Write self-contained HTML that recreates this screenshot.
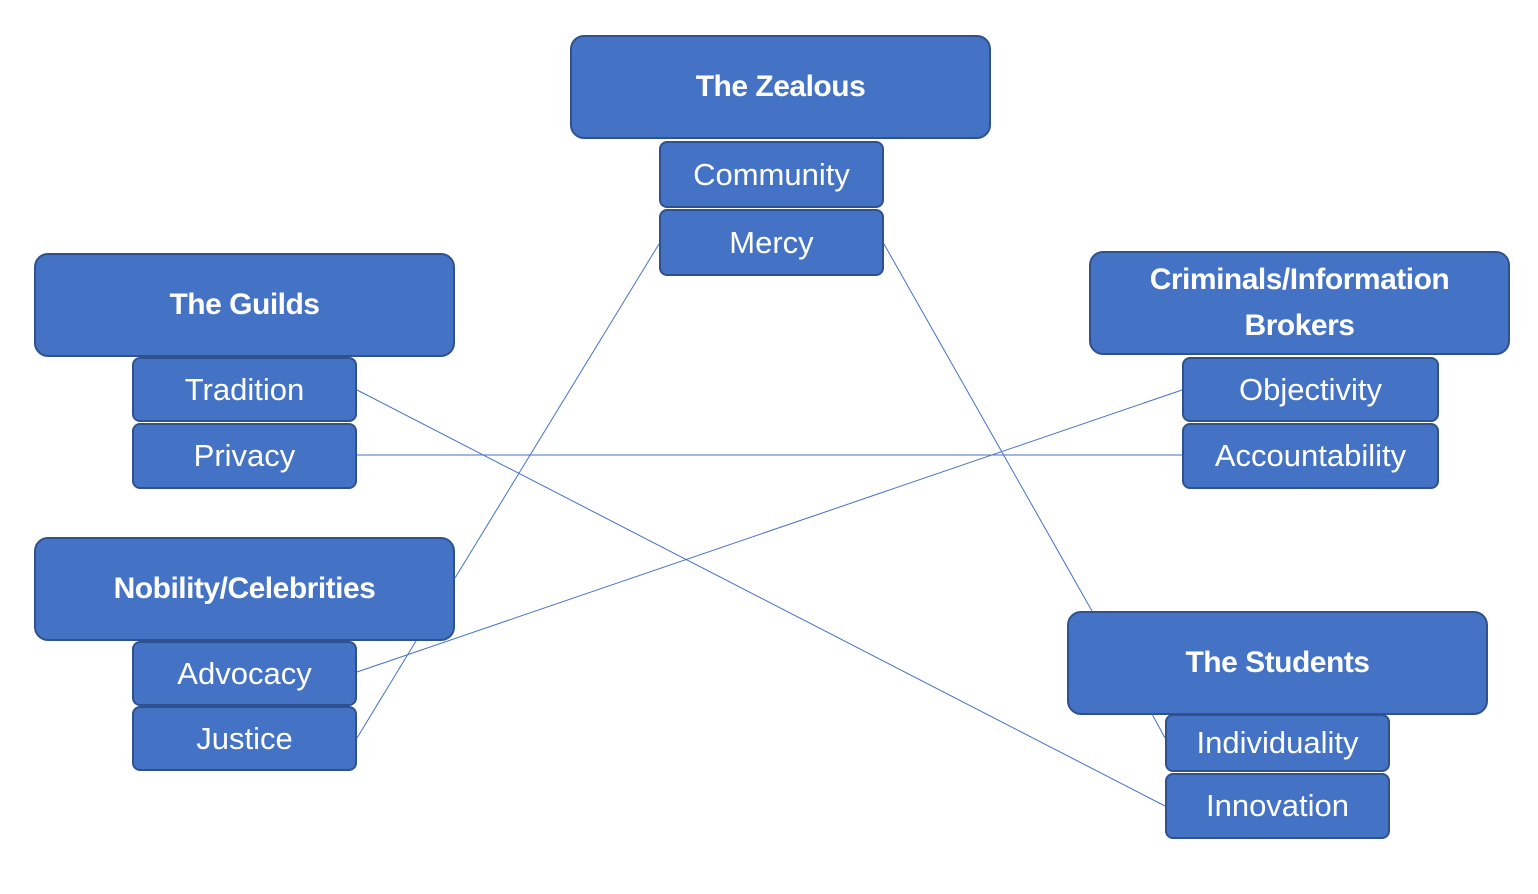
<!DOCTYPE html>
<html><head><meta charset="utf-8"><style>
body{margin:0;width:1538px;height:894px;background:#fff;position:relative;overflow:hidden;font-family:"Liberation Sans",sans-serif}
.b{position:absolute;background:#4472c4;border:2px solid #2f528f;box-sizing:border-box;color:#fff;display:flex;align-items:center;justify-content:center;text-align:center}
.h{border-radius:14px;font-weight:bold;font-size:30px;line-height:46px;letter-spacing:-0.5px}
.s{border-radius:8px;font-size:31px}
svg{position:absolute;left:0;top:0}
</style></head><body>
<div class="b h" style="left:570px;top:35px;width:421px;height:104px">The Zealous</div>
<div class="b s" style="left:659px;top:141px;width:225px;height:67px">Community</div>
<div class="b s" style="left:659px;top:209px;width:225px;height:67px">Mercy</div>
<div class="b h" style="left:34px;top:253px;width:421px;height:104px">The Guilds</div>
<div class="b s" style="left:132px;top:357px;width:225px;height:65px">Tradition</div>
<div class="b s" style="left:132px;top:423px;width:225px;height:66px">Privacy</div>
<div class="b h" style="left:1089px;top:251px;width:421px;height:104px">Criminals/Information<br>Brokers</div>
<div class="b s" style="left:1182px;top:357px;width:257px;height:65px">Objectivity</div>
<div class="b s" style="left:1182px;top:423px;width:257px;height:66px">Accountability</div>
<div class="b h" style="left:34px;top:537px;width:421px;height:104px">Nobility/Celebrities</div>
<div class="b s" style="left:132px;top:641px;width:225px;height:65px">Advocacy</div>
<div class="b s" style="left:132px;top:706px;width:225px;height:65px">Justice</div>
<div class="b h" style="left:1067px;top:611px;width:421px;height:104px">The Students</div>
<div class="b s" style="left:1165px;top:714px;width:225px;height:58px">Individuality</div>
<div class="b s" style="left:1165px;top:773px;width:225px;height:66px">Innovation</div>
<svg width="1538" height="894"><g stroke="#4472c4" stroke-width="1" fill="none">
<line x1="659" y1="244" x2="455" y2="578"/>
<line x1="884" y1="244" x2="1092" y2="611"/>
<line x1="357" y1="390" x2="1165" y2="806"/>
<line x1="357" y1="455" x2="1182" y2="455"/>
<line x1="1182" y1="390" x2="357" y2="672"/>
<line x1="357" y1="738" x2="416" y2="641"/>
<line x1="1152" y1="714" x2="1165" y2="738"/>
</g></svg>
</body></html>
